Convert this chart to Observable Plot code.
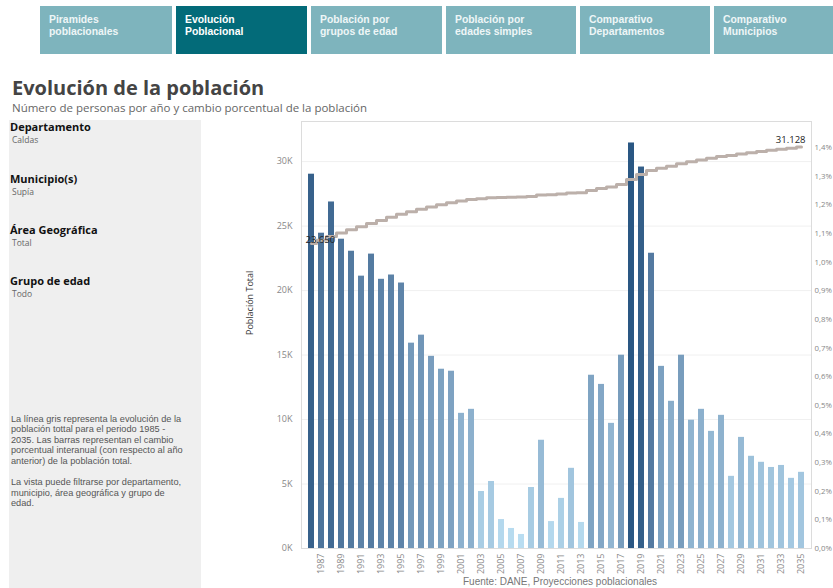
<!DOCTYPE html>
<html><head><meta charset="utf-8">
<script src="https://cdn.jsdelivr.net/npm/d3@7"></script>
<script src="https://cdn.jsdelivr.net/npm/@observablehq/plot@0.6"></script>
<style>
body{margin:0;width:833px;height:588px;overflow:hidden;position:relative;background:#fff;font-family:"Open Sans",sans-serif;}
.tab{position:absolute;top:6px;height:48px;background:#7eb4bd;color:#eef6f7;box-sizing:border-box;}
.tab.on{background:#036b79;color:#fff;}
.tl{position:absolute;left:9px;font-family:"Liberation Sans",Arial,sans-serif;font-weight:bold;font-size:10.4px;line-height:normal;white-space:nowrap;}
.abs{position:absolute;white-space:nowrap;}
#panel{position:absolute;left:9px;top:120px;width:192px;height:470px;background:#efefef;}
.h{position:absolute;left:10px;font-weight:bold;font-size:11px;line-height:normal;color:#111;white-space:nowrap;}
.s{position:absolute;left:12px;font-size:8.5px;line-height:normal;color:#666;white-space:nowrap;}
.d{position:absolute;left:11px;font-family:"Liberation Sans",Arial,sans-serif;font-size:9.2px;line-height:normal;color:#555;white-space:nowrap;}
#chart{position:absolute;left:210px;top:115px;}
</style></head>
<body>
<div id="tabs"></div>
<div class="abs" style="left:12px;top:74px;font-size:20px;font-weight:bold;color:#444;">Evolución de la población</div>
<div class="abs" style="left:12px;top:100px;font-size:11.5px;color:#666;">Número de personas por año y cambio porcentual de la población</div>
<div id="panel"></div>
<div class="h" style="top:118.5px">Departamento</div><div class="s" style="top:133.8px">Caldas</div>
<div class="h" style="top:170.5px">Municipio(s)</div><div class="s" style="top:185.8px">Supía</div>
<div class="h" style="top:221.5px">Área Geográfica</div><div class="s" style="top:236.8px">Total</div>
<div class="h" style="top:272.5px">Grupo de edad</div><div class="s" style="top:287.8px">Todo</div>
<div id="desc"></div>
<div id="chart"></div>
<div class="abs" style="left:463px;top:576.3px;font-family:'Liberation Sans',Arial,sans-serif;font-size:10px;line-height:normal;color:#777;">Fuente: DANE, Proyecciones poblacionales</div>
<script>
const tabLabels = [["Piramides","poblacionales"],["Evolución","Poblacional"],["Población por","grupos de edad"],["Población por","edades simples"],["Comparativo","Departamentos"],["Comparativo","Municipios"]];
const tabLeft = [40,176,311,446,580,714];
const descLines = ["La línea gris representa la evolución de la","población tottal para el periodo 1985 -","2035. Las barras representan el cambio","porcentual interanual (con respecto al año","anterior) de la población total.","","La vista puede filtrarse por departamento,","municipio, área geográfica y grupo de","edad."];

const years = [1986,1987,1988,1989,1990,1991,1992,1993,1994,1995,1996,1997,1998,1999,2000,2001,2002,2003,2004,2005,2006,2007,2008,2009,2010,2011,2012,2013,2014,2015,2016,2017,2018,2019,2020,2021,2022,2023,2024,2025,2026,2027,2028,2029,2030,2031,2032,2033,2034,2035];
const pctChange = [1.307,1.101,1.210,1.080,1.038,0.951,1.028,0.940,0.955,0.927,0.717,0.745,0.671,0.626,0.619,0.472,0.486,0.199,0.234,0.101,0.070,0.049,0.213,0.378,0.094,0.175,0.280,0.091,0.605,0.573,0.437,0.675,1.416,1.332,1.031,0.636,0.514,0.675,0.448,0.486,0.409,0.465,0.252,0.388,0.322,0.301,0.283,0.290,0.245,0.266];
const population = [23650,23910,24200,24460,24710,24950,25200,25440,25690,25920,26110,26300,26480,26650,26810,26940,27070,27120,27190,27210,27230,27250,27300,27410,27430,27480,27560,27580,27750,27910,28030,28220,28620,29000,29300,29490,29640,29840,29980,30120,30250,30390,30470,30590,30690,30780,30870,30960,31040,31128];
const leftTicks = [0,5000,10000,15000,20000,25000,30000];
const rightTicks = [0,0.1,0.2,0.3,0.4,0.5,0.6,0.7,0.8,0.9,1.0,1.1,1.2,1.3,1.4];
const xTickYears = [1987,1989,1991,1993,1995,1997,1999,2001,2003,2005,2007,2009,2011,2013,2015,2017,2019,2021,2023,2025,2027,2029,2031,2033,2035];

const tabs = document.getElementById("tabs");
tabLabels.forEach((t,i)=>{
  const d=document.createElement("div");
  d.className="tab"+(i===1?" on":"");
  d.style.left=tabLeft[i]+"px";
  d.style.width=(i===5?133:(tabLeft[i+1]-tabLeft[i]-4))+"px";
  t.forEach((line,j)=>{
    const s=document.createElement("div");
    s.className="tl"; s.style.top=(8+j*12)+"px"; s.textContent=line;
    d.appendChild(s);
  });
  tabs.appendChild(d);
});
const desc = document.getElementById("desc");
descLines.forEach((line,j)=>{
  if(!line) return;
  const s=document.createElement("div");
  s.className="d"; s.style.top=(413.5+j*10.6)+"px"; s.textContent=line;
  desc.appendChild(s);
});

const k = 1.351/30000; // population -> right-axis units
const data = years.map((y,i)=>({year:y, pct:pctChange[i], pop:population[i]}));
const loc = d3.formatLocale({decimal:",",thousands:".",grouping:[3],currency:["$",""]});
const fmtN = loc.format(",d");
const first = data[0], last = data[data.length-1];

const chart = Plot.plot({
  width: 623, height: 473,
  marginLeft: 91, marginRight: 22, marginTop: 6, marginBottom: 40,
  style:{fontFamily:"Open Sans, sans-serif", fontSize:"9px", color:"#888", background:"transparent", overflow:"visible"},
  x:{type:"band", domain: years, paddingInner:0.38, paddingOuter:0.19, label:null},
  y:{domain:[0,1.491], label:null},
  color:{type:"linear", range:["#b9ddf1","#2a5783"], interpolate:"lab"},
  marks:[
    Plot.gridY(leftTicks.map(v=>v*k), {stroke:"#f0f0f0", strokeOpacity:1}),
    Plot.frame({stroke:"#dcdcdc"}),
    Plot.barY(data,{x:"year", y:"pct", fill:"pct"}),
    Plot.line(data,{x:"year", y:d=>d.pop*k, curve:"step", stroke:"#bcb0aa", strokeWidth:3}),
    Plot.text([first],{x:"year", y:d=>d.pop*k, text:d=>fmtN(d.pop), textAnchor:"start", dx:-6, dy:-4, fill:"#222", fontSize:9.5}),
    Plot.text([last],{x:"year", y:d=>d.pop*k, text:d=>fmtN(d.pop), textAnchor:"end", dx:4, dy:-7, fill:"#222", fontSize:9.5}),
    Plot.axisX({ticks:xTickYears, tickFormat:d=>String(d), tickRotate:-90, tickSize:0, tickPadding:5, label:null}),
    Plot.axisY({anchor:"left", ticks:leftTicks.map(v=>v*k), tickFormat:d=>Math.round(d/k/1000)+"K", tickSize:0, tickPadding:9, label:null}),
    Plot.axisY({anchor:"right", ticks:rightTicks, tickFormat:d=>d.toFixed(1).replace(".",",")+"%", tickSize:0, tickPadding:3, fontSize:7.8, label:null}),
    Plot.text(["Población Total"],{frameAnchor:"left", dx:-51, rotate:-90, fill:"#333", fontSize:9})
  ]
});
document.getElementById("chart").appendChild(chart);
</script>
</body></html>
